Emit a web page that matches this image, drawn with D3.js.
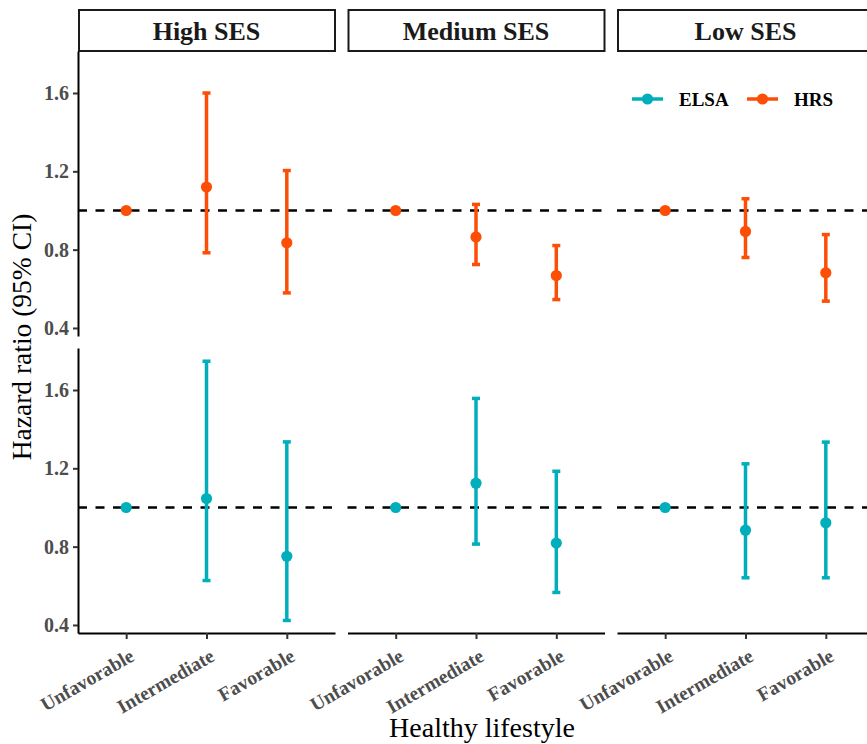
<!DOCTYPE html>
<html>
<head>
<meta charset="utf-8">
<script src="https://cdn.jsdelivr.net/npm/d3@7"></script>
<style>
  html, body { margin: 0; padding: 0; background: #fff; }
  svg { display: block; }
  text { font-family: "Liberation Serif", "Times New Roman", serif; }
</style>
</head>
<body>
<svg id="chart" width="867" height="744"></svg>
<script>
// ---- data ----
const sesGroups = ["High SES", "Medium SES", "Low SES"];
const lifestyles = ["Unfavorable", "Intermediate", "Favorable"];
const cohorts = ["ELSA", "HRS"];
const yTicks = [0.4, 0.8, 1.2, 1.6];

// HRS (top row): [HR, lower, upper] per SES group, per lifestyle
const hrsHR    = [[1.00, 1.120, 0.835], [1.00, 0.865, 0.668], [1.00, 0.893, 0.682]];
const hrsLower = [[null, 0.784, 0.579], [null, 0.724, 0.545], [null, 0.760, 0.537]];
const hrsUpper = [[null, 1.600, 1.204], [null, 1.031, 0.821], [null, 1.060, 0.877]];

// ELSA (bottom row)
const elsaHR    = [[1.00, 1.046, 0.751], [1.00, 1.124, 0.818], [1.00, 0.884, 0.922]];
const elsaLower = [[null, 0.627, 0.423], [null, 0.813, 0.566], [null, 0.641, 0.641]];
const elsaUpper = [[null, 1.747, 1.335], [null, 1.557, 1.185], [null, 1.223, 1.334]];

const colors = { ELSA: "#00AFBB", HRS: "#FC4E07" };

// ---- layout ----
const svg = d3.select("#chart");
const panelLeft0 = 78, panelStep = 269.5, panelW = 257;
const rows = [
  { cohort: "HRS",  top: 51,  bottom: 336, hr: hrsHR,  lo: hrsLower,  hi: hrsUpper },
  { cohort: "ELSA", top: 348, bottom: 633, hr: elsaHR, lo: elsaLower, hi: elsaUpper }
];
const yDomain = [0.359, 1.8145];

sesGroups.forEach((ses, ci) => {
  const left = panelLeft0 + ci * panelStep;
  const x = d3.scalePoint().domain(lifestyles).range([left, left + panelW]).padding(0.6);

  // strip
  svg.append("rect").attr("x", left + 1).attr("y", 10).attr("width", panelW - 1).attr("height", 41)
    .attr("fill", "#fff").attr("stroke", "#1a1a1a").attr("stroke-width", 2);
  svg.append("text").attr("x", left + panelW / 2).attr("y", 39.5)
    .attr("text-anchor", "middle").attr("font-weight", "bold").attr("font-size", 26)
    .attr("fill", "#1a1a1a").text(ses);

  rows.forEach((row, ri) => {
    const y = d3.scaleLinear().domain(yDomain).range([row.bottom, row.top]);
    const g = svg.append("g");

    // reference line
    g.append("line").attr("x1", left).attr("x2", left + panelW)
      .attr("y1", y(1)).attr("y2", y(1))
      .attr("stroke", "#000").attr("stroke-width", 2.4).attr("stroke-dasharray", "9,8.5");

    // left axis (first column only)
    if (ci === 0) {
      const ax = d3.axisLeft(y).tickValues(yTicks).tickFormat(d3.format(".1f")).tickSize(5).tickSizeOuter(0);
      const axg = svg.append("g").attr("transform", `translate(${left},0)`).call(ax);
      axg.select(".domain").attr("stroke", "#000").attr("stroke-width", 2);
      axg.selectAll(".tick line").attr("stroke", "#333").attr("stroke-width", 2);
      axg.selectAll(".tick text").attr("font-family", "Liberation Serif, serif")
        .attr("font-size", 20).attr("font-weight", "bold").attr("fill", "#4D4D4D").attr("x", -9);
    }

    // bottom axis (bottom row only)
    if (ri === 1) {
      const bx = d3.axisBottom(x).tickSize(6).tickSizeOuter(0);
      const bxg = svg.append("g").attr("transform", `translate(0,${row.bottom})`).call(bx);
      bxg.select(".domain").attr("stroke", "#000").attr("stroke-width", 2.2);
      bxg.selectAll(".tick line").attr("stroke", "#333").attr("stroke-width", 2);
      bxg.selectAll(".tick text").remove();
      bxg.selectAll(".tick").append("text")
        .attr("transform", "translate(2,15) rotate(-30)")
        .attr("text-anchor", "end").attr("dy", "0.7em")
        .attr("font-family", "Liberation Serif, serif").attr("font-size", 19.5)
        .attr("font-weight", "bold").attr("fill", "#4D4D4D")
        .text(d => d);
    }

    // error bars and points
    const col = colors[row.cohort];
    lifestyles.forEach((ls, li) => {
      const hr = row.hr[ci][li], lo = row.lo[ci][li], hi = row.hi[ci][li];
      const cx = x(ls);
      if (lo !== null && hi !== null) {
        g.append("line").attr("x1", cx).attr("x2", cx).attr("y1", y(lo)).attr("y2", y(hi))
          .attr("stroke", col).attr("stroke-width", 3.5);
        [lo, hi].forEach(v => {
          g.append("line").attr("x1", cx - 4).attr("x2", cx + 4).attr("y1", y(v)).attr("y2", y(v))
            .attr("stroke", col).attr("stroke-width", 3.5);
        });
      }
      g.append("circle").attr("cx", cx).attr("cy", y(hr)).attr("r", 5.6).attr("fill", col);
    });
  });
});

// legend
const legendItems = [
  { name: "ELSA", x0: 632, tx: 679 },
  { name: "HRS",  x0: 747, tx: 794 }
];
const ly = 99;
legendItems.forEach(it => {
  svg.append("line").attr("x1", it.x0).attr("x2", it.x0 + 31).attr("y1", ly).attr("y2", ly)
    .attr("stroke", colors[it.name]).attr("stroke-width", 3.5);
  svg.append("circle").attr("cx", it.x0 + 15.5).attr("cy", ly).attr("r", 5.6).attr("fill", colors[it.name]);
  svg.append("text").attr("x", it.tx).attr("y", ly + 6.5).attr("font-size", 19).attr("font-weight", "bold")
    .attr("fill", "#000").text(it.name);
});

// axis titles
svg.append("text").attr("transform", "translate(31,337) rotate(-90)").attr("text-anchor", "middle")
  .attr("font-size", 27.5).attr("fill", "#000").text("Hazard ratio (95% CI)");
svg.append("text").attr("x", 482).attr("y", 737).attr("text-anchor", "middle")
  .attr("font-size", 28).attr("fill", "#000").text("Healthy lifestyle");
</script>
</body>
</html>
